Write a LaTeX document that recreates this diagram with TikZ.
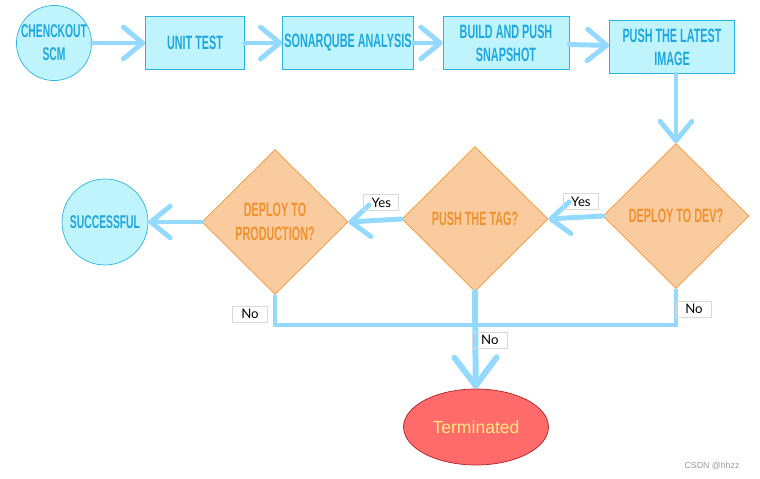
\documentclass[tikz,border=0pt]{standalone}
\usepackage{fontspec}
\setmainfont{Liberation Sans}
\newfontfamily\bebas[FakeStretch=0.56]{Liberation Sans}
\newfontfamily\gill{Lato}
\usetikzlibrary{shapes.geometric,arrows.meta}
\definecolor{cyanfill}{RGB}{192,244,252}
\definecolor{cyanline}{RGB}{43,181,230}
\definecolor{cyantext}{RGB}{30,168,222}
\definecolor{orangefill}{RGB}{251,203,160}
\definecolor{orangeline}{RGB}{242,154,56}
\definecolor{orangetext}{RGB}{240,146,46}
\definecolor{arrowblue}{RGB}{148,217,255}
\definecolor{termfill}{RGB}{255,107,107}
\definecolor{termline}{RGB}{178,34,34}
\definecolor{termtext}{RGB}{255,233,127}
\begin{document}
\begin{tikzpicture}[x=0.02cm,y=-0.02cm,
	step box/.style = {rectangle,draw=cyanline,fill=cyanfill,text=cyantext,align=center,
		font=\bebas\bfseries\fontsize{11}{13}\selectfont,minimum height=1.07cm,inner sep=1pt},
	round node/.style = {circle,draw=cyanline,fill=cyanfill,text=cyantext,align=center,
		font=\bebas\bfseries\fontsize{10.5}{13}\selectfont,inner sep=0pt},
	decision/.style = {diamond,draw=orangeline,fill=orangefill,text=orangetext,align=center,
		font=\bebas\bfseries\fontsize{11}{14}\selectfont,minimum width=2.92cm,minimum height=2.9cm,inner sep=0pt},
	flow/.style = {draw=arrowblue,line width=2.8pt,line cap=round,-{Straight Barb[round,length=11pt,width=18pt]}},
	no line/.style = {draw=arrowblue,line width=2.8pt},
	answer/.style = {draw=black!15,line width=0.6pt,font=\gill\fontsize{7.5}{8}\selectfont,minimum width=0.7cm,minimum height=0.32cm,inner sep=0pt}]
	
	\useasboundingbox (0,0) rectangle (760,479);
	
	\node[round node,minimum size=1.48cm] (1) at (54,43) {CHENCKOUT\\SCM};
	\node[step box,minimum width=1.98cm] (2) at (195,43) {UNIT TEST};
	\node[step box,minimum width=2.5cm] (3) at (348,43) {SONARQUBE ANALYSIS};
	\node[step box,minimum width=2.52cm] (4) at (506,43) {BUILD AND PUSH\\SNAPSHOT};
	\node[step box,minimum width=2.5cm] (5) at (672,47) {PUSH THE LATEST\\IMAGE};
	\node[decision] (6) at (676,216) {DEPLOY TO DEV?};
	\node[decision] (7) at (475,219) {PUSH THE TAG?};
	\node[decision] (8) at (275,222) {DEPLOY TO\\PRODUCTION?};
	\node[round node,minimum size=1.72cm] (9) at (105,222) {SUCCESSFUL};
	\node[ellipse,draw=termline,fill=termfill,text=termtext,font=\fontsize{10}{12}\selectfont,
		minimum width=2.9cm,minimum height=1.52cm] (10) at (476,427) {Terminated};
	\coordinate (11) at (475,325);
	
	\path[flow] (1) -- (2);
	\path[flow] (2) -- (3);
	\path[flow] (3) -- (4);
	\path[flow] (4) -- (5);
	\path[flow] (5.south -| 6.north) -- (6.north);
	\path[flow] (6.west) -- node[answer,pos=0.4,above=4pt] {Yes} (7.east);
	\path[flow] (7.west) -- node[answer,pos=0.38,above=5pt] {Yes} (8.east);
	\path[flow] (8.west) -- (9);
	\path[no line] (8.south) |- node[answer,pos=0.32,left=4pt] {No} (11) -| node[answer,pos=0.72,right=0pt] {No} (6.south);
	\path[flow,line width=3.4pt,-{Straight Barb[round,length=16pt,width=24pt]}] (7.south) -- node[answer,pos=0.5,right=-2pt] {No} (10);
	
	\node[text=black!40,font=\fontsize{5}{6}\selectfont] (12) at (712,466) {CSDN @hhzz};
	
\end{tikzpicture}
\end{document}
